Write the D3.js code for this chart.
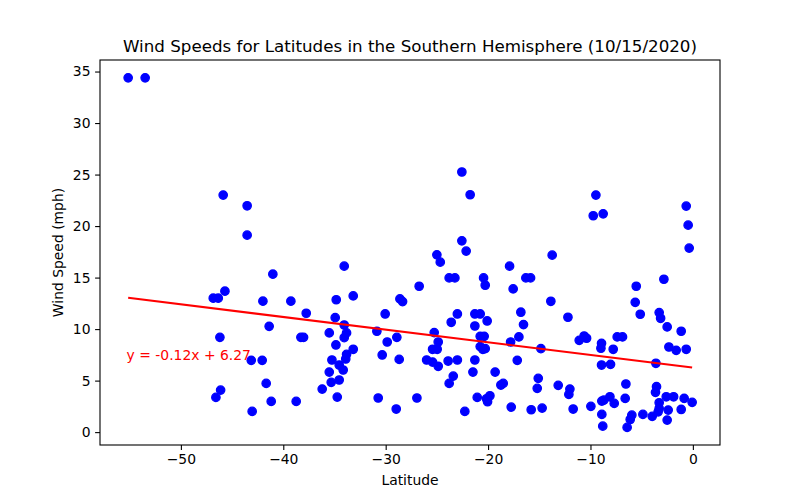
<!DOCTYPE html>
<html>
<head>
<meta charset="utf-8">
<script src="https://cdn.jsdelivr.net/npm/d3@7"></script>
<style>
  body { margin: 0; background: #fff; }
  svg { font-family: "DejaVu Sans", sans-serif; }
</style>
</head>
<body>
<div id="chart"></div>
<script>
// southern hemisphere cities
const latitudes = [
  -55.15, -53.49, -45.87, -43.53, -43.53, -41.02, -45.70, -46.84, -46.35, -41.99,
  -39.26, -37.76, -41.38, -46.19, -38.28, -38.02, -43.13, -42.06, -41.67, -46.12,
  -46.58, -41.18, -38.74, -43.04, -22.56, -21.75, -34.05, -22.56, -22.14, -25.00,
  -24.67, -23.80, -23.24, -20.44, -20.28, -26.73, -17.90, -33.17, -34.83, -28.61,
  -28.35, -34.93, -30.05, -34.05, -35.51, -33.82, -34.05, -30.86, -28.91, -29.85,
  -34.86, -33.17, -33.82, -33.90, -35.25, -34.54, -34.15, -35.51, -34.54, -35.32,
  -36.20, -34.73, -30.34, -28.68, -30.73, -28.97, -26.95, -25.26, -24.87, -25.42,
  -24.97, -26.00, -25.42, -24.87, -23.90, -23.00, -23.60, -23.00, -23.40, -23.80,
  -21.29, -20.77, -20.09, -21.29, -20.77, -20.38, -20.77, -20.51, -20.28, -21.29,
  -21.48, -19.31, -21.06, -20.15, -19.82, -20.05, -22.27, -18.52, -18.75, -9.47,
  -9.73, -8.76, -0.65, -0.46, -0.36, -13.74, -16.31, -15.85, -17.55, -13.87,
  -5.53, -2.83, -5.63, -16.80, -16.54, -16.99, -17.80, -14.84, -12.20, -11.10,
  -10.62, -10.38, -8.92, -8.98, -17.15, -15.10, -15.20, -13.15, -12.01, -12.11,
  -8.92, -17.74, -15.79, -14.72, -11.69, -9.96, -8.89, -8.89, -8.80, -5.14,
  -3.29, -3.15, -2.51, -1.14, -7.39, -6.87, -7.78, -2.34, -1.63, -0.65,
  -3.61, -8.04, -6.54, -3.55, -3.65, -2.60, -1.88, -0.85, -0.07, -8.69,
  -8.10, -7.68, -6.61, -3.29, -3.29, -2.41, -1.14, -5.96, -6.12, -6.42,
  -4.88, -3.97, -3.39, -2.51
];
const windSpeeds = [
  34.39, 34.39, 23.01, 21.97, 19.12, 15.33, 13.68, 13.00, 13.00, 12.71,
  12.71, 11.54, 10.27, 9.20, 9.20, 9.20, 6.97, 6.97, 4.73, 4.08,
  3.37, 2.98, 2.98, 2.01, 25.25, 23.04, 16.11, 18.57, 17.57, 17.21,
  16.50, 14.97, 14.97, 14.97, 14.26, 14.16, 16.11, 13.22, 12.85, 12.93,
  12.67, 11.11, 11.47, 10.40, 9.63, 9.63, 9.17, 9.79, 9.20, 8.75,
  8.46, 8.04, 7.55, 7.10, 7.00, 6.51, 6.03, 5.83, 5.06, 4.83,
  4.18, 3.40, 7.49, 7.06, 3.31, 2.24, 3.31, 9.66, 8.75, 8.04,
  8.04, 7.00, 6.80, 6.39, 6.90, 7.00, 10.66, 11.47, 5.44, 4.73,
  11.47, 11.47, 10.79, 10.30, 9.30, 9.30, 8.30, 8.04, 8.10, 7.00,
  5.83, 5.83, 3.37, 3.24, 3.53, 2.95, 2.01, 4.73, 4.57, 23.01,
  21.00, 21.19, 21.94, 20.09, 17.86, 17.18, 14.97, 14.97, 13.90, 12.70,
  14.16, 14.84, 12.60, 11.64, 10.44, 9.24, 8.75, 8.10, 11.15, 8.91,
  9.33, 9.11, 8.62, 8.14, 6.97, 5.22, 4.25, 4.54, 4.18, 3.66,
  6.51, 2.43, 2.17, 2.33, 2.24, 2.50, 3.01, 1.72, 0.58, 11.44,
  11.60, 11.05, 10.21, 9.79, 9.24, 9.24, 8.04, 8.26, 7.94, 8.04,
  6.68, 6.58, 4.67, 4.41, 3.86, 3.43, 3.43, 3.27, 2.89, 3.11,
  3.43, 2.79, 3.27, 2.85, 2.30, 2.14, 2.20, 1.65, 1.23, 0.46,
  1.72, 1.53, 1.97, 1.17
];
const xTicks = [-50, -40, -30, -20, -10, 0];
const yTicks = [0, 5, 10, 15, 20, 25, 30, 35];

// fitted line shown in the plot
const slope = -0.1227;
const intercept = 6.27;
const lineLabel = "y = -0.12x + 6.27";

const width = 800, height = 500;
const margin = { top: 60, right: 80, bottom: 55, left: 100 };
const iwidth = width - margin.left - margin.right;
const iheight = height - margin.top - margin.bottom;

const svg = d3.select("#chart").append("svg")
  .attr("width", width)
  .attr("height", height);

const g = svg.append("g").attr("transform", `translate(${margin.left},${margin.top})`);

const x = d3.scaleLinear().domain([-57.9, 2.65]).range([0, iwidth]);
const y = d3.scaleLinear().domain([-1.25, 36.12]).range([iheight, 0]);

const points = latitudes.map((lat, i) => ({ lat: lat, wind: windSpeeds[i] }));

g.selectAll("circle").data(points)
  .enter().append("circle")
  .attr("cx", d => x(d.lat))
  .attr("cy", d => y(d.wind))
  .attr("r", 4.2)
  .style("fill", "#0000ff")
  .style("stroke", "#0000ff")
  .style("stroke-width", 1.3);

const xExt = d3.extent(latitudes);
const line = d3.line().x(d => x(d)).y(d => y(slope * d + intercept));
g.append("path")
  .datum(xExt)
  .attr("d", line)
  .style("fill", "none")
  .style("stroke", "#ff0000")
  .style("stroke-width", 2.1);

g.append("text")
  .attr("x", x(-55.3))
  .attr("y", y(7))
  .style("font-size", "13.9px")
  .style("fill", "#ff0000")
  .text(lineLabel);

const fmt = d3.format("d");

const xAxis = g.append("g")
  .attr("transform", `translate(0,${iheight})`)
  .call(d3.axisBottom(x).tickValues(xTicks).tickFormat(fmt).tickSize(4.9).tickPadding(4.6));

const yAxis = g.append("g")
  .call(d3.axisLeft(y).tickValues(yTicks).tickFormat(fmt).tickSize(4.9).tickPadding(4.6));

[xAxis, yAxis].forEach(a => {
  a.select(".domain").remove();
  a.selectAll(".tick line").style("stroke", "#000").style("stroke-width", 1.1);
  a.selectAll(".tick text")
    .style("font-size", "13.9px")
    .style("font-family", "DejaVu Sans, sans-serif")
    .style("fill", "#000");
});

// frame
g.append("rect")
  .attr("width", iwidth)
  .attr("height", iheight)
  .style("fill", "none")
  .style("stroke", "#000")
  .style("stroke-width", 1.1);

svg.append("text")
  .attr("x", margin.left + iwidth / 2)
  .attr("y", 52)
  .attr("text-anchor", "middle")
  .style("font-size", "16.7px")
  .text("Wind Speeds for Latitudes in the Southern Hemisphere (10/15/2020)");

svg.append("text")
  .attr("x", margin.left + iwidth / 2)
  .attr("y", 485)
  .attr("text-anchor", "middle")
  .style("font-size", "13.9px")
  .text("Latitude");

svg.append("text")
  .attr("transform", `translate(63,${margin.top + iheight / 2}) rotate(-90)`)
  .attr("text-anchor", "middle")
  .style("font-size", "13.9px")
  .text("Wind Speed (mph)");
</script>
</body>
</html>
